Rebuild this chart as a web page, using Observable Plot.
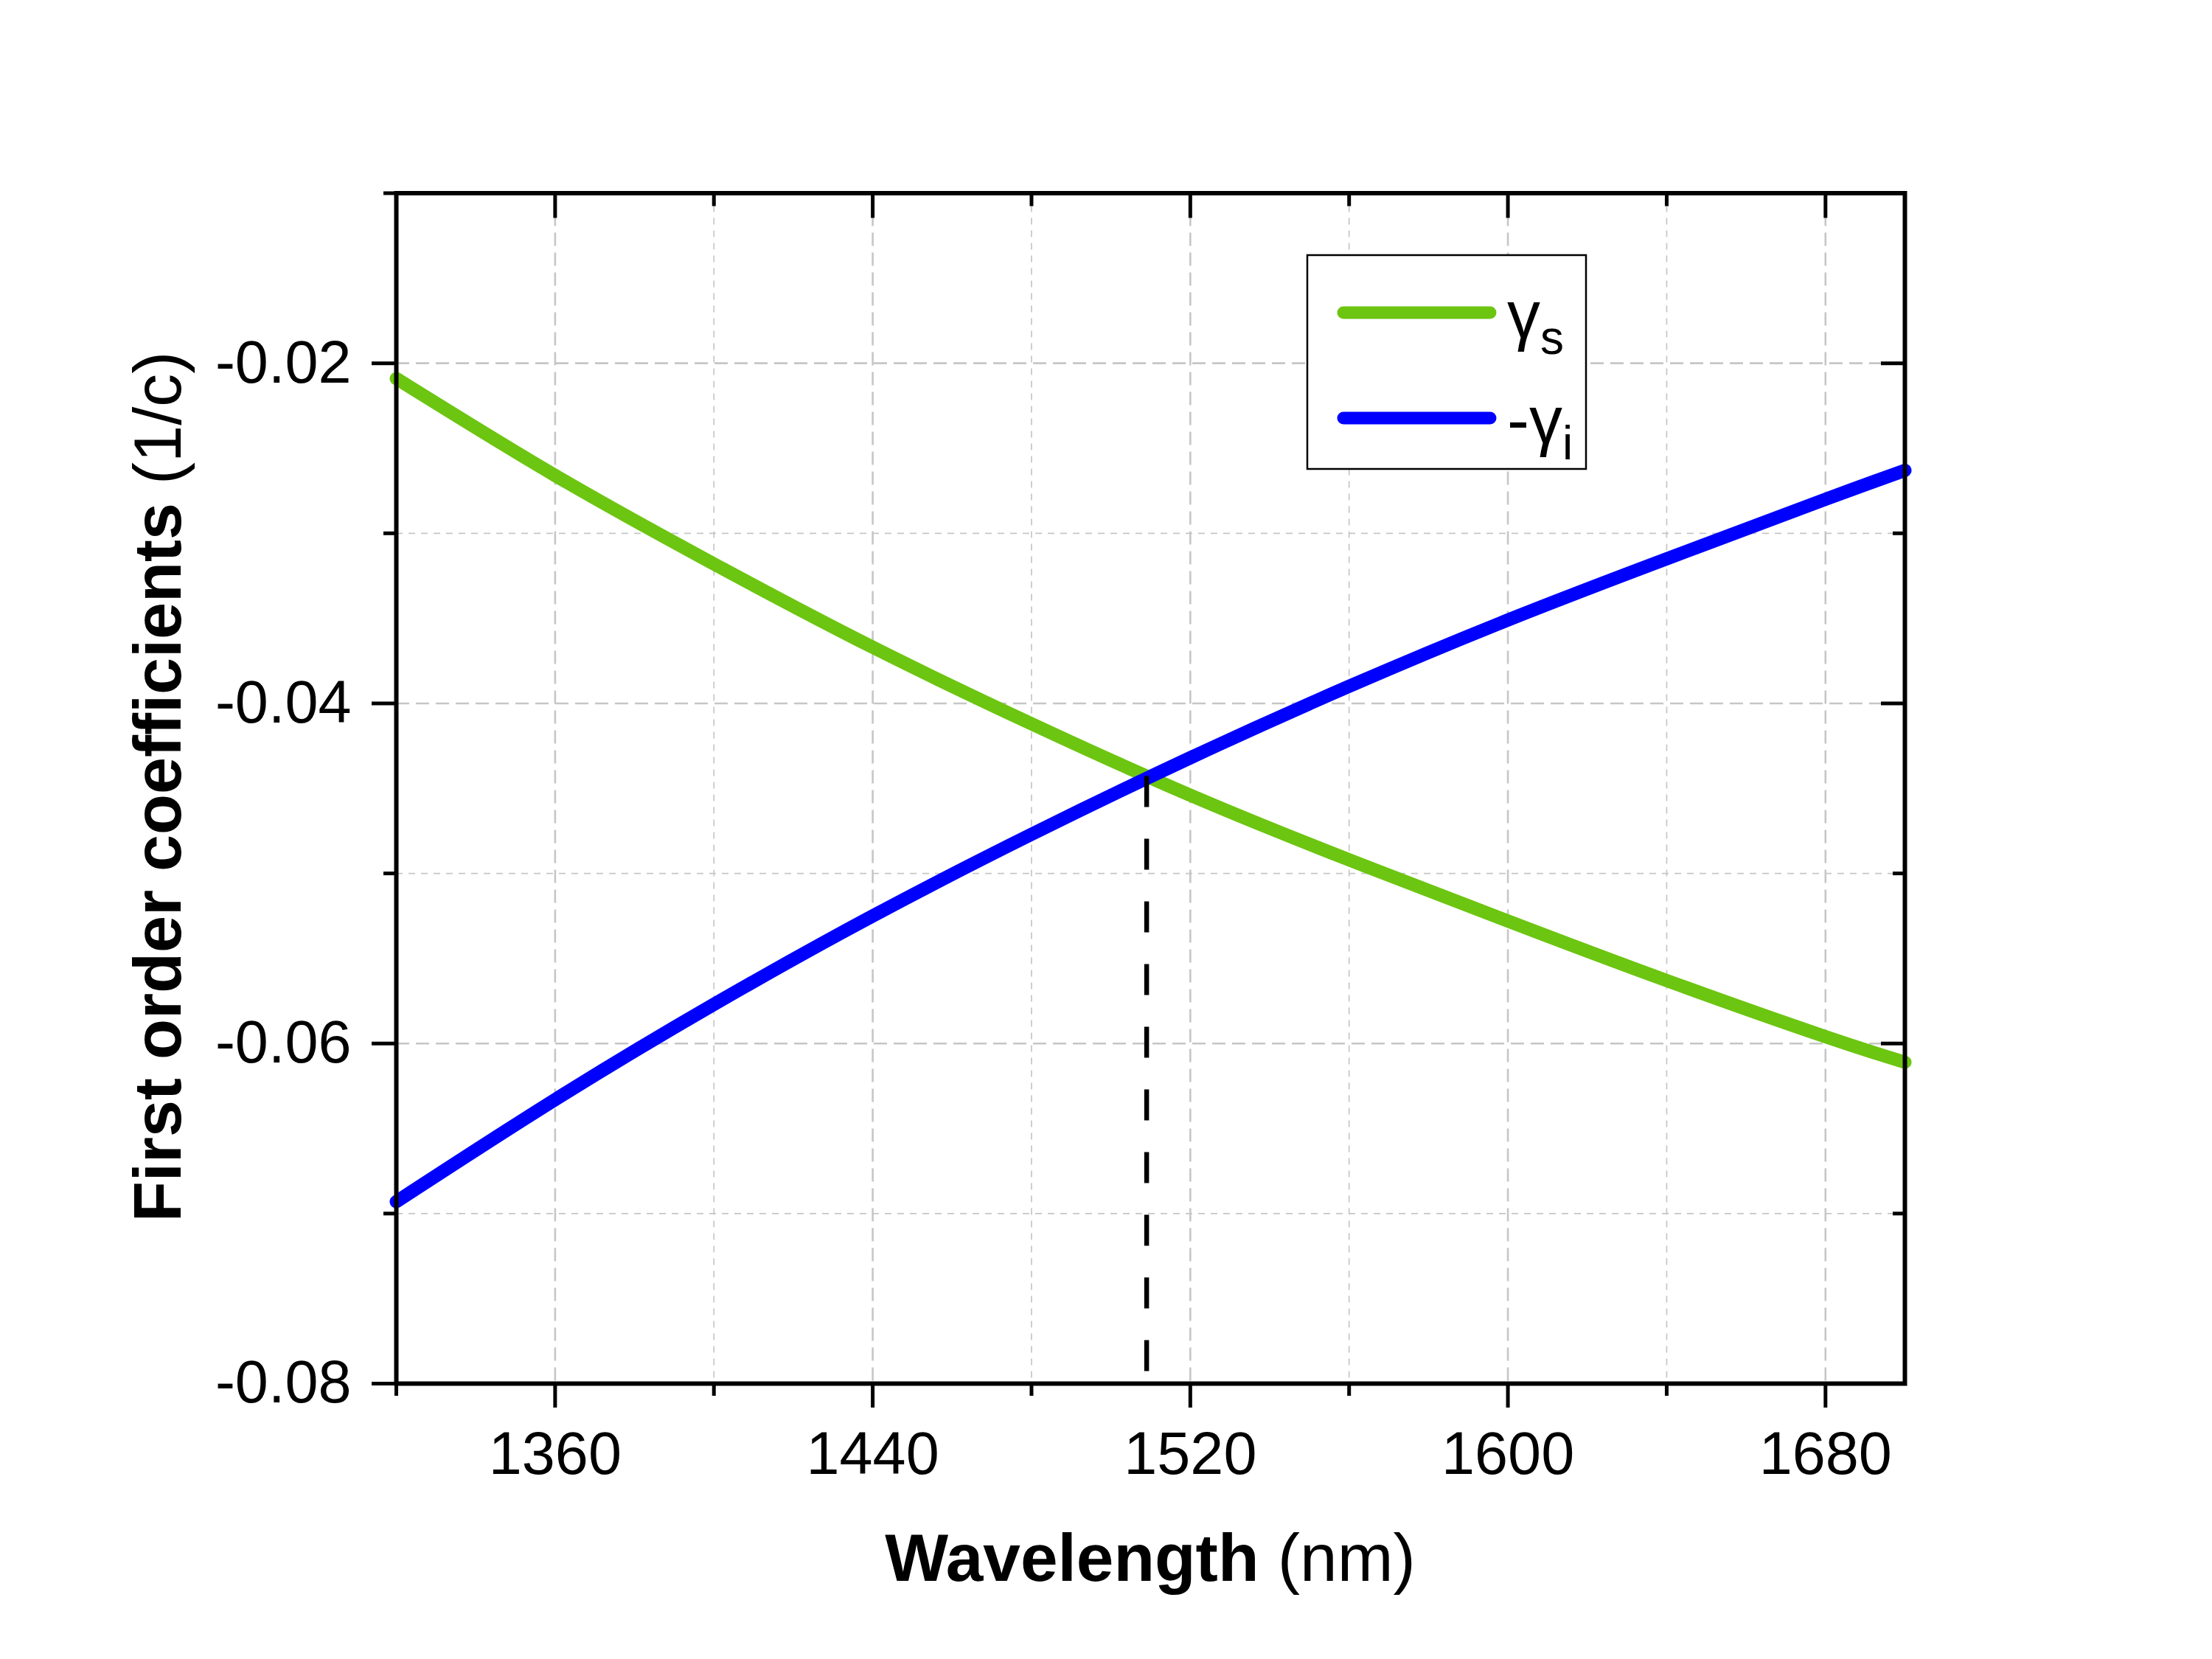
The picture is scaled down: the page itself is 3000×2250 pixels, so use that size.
<!DOCTYPE html>
<html>
<head>
<meta charset="utf-8">
<script src="https://cdn.jsdelivr.net/npm/d3@7"></script>
<script src="https://cdn.jsdelivr.net/npm/@observablehq/plot@0.6"></script>
<style>
  html, body { margin: 0; padding: 0; background: #fff; overflow: hidden; }
  svg { display: block; }
</style>
</head>
<body>
<div id="chart"></div>
<script>
// ---- data ----
const wavelength = [1320, 1360, 1400, 1440, 1480, 1520, 1560, 1600, 1640, 1680, 1700];
const gammaS = [-0.0209, -0.0266, -0.0318, -0.0367, -0.0412, -0.0454, -0.0492, -0.0528, -0.0563, -0.0596, -0.0611];
const minusGammaI = [-0.0693, -0.0633, -0.0577, -0.0525, -0.0477, -0.0432, -0.0390, -0.0351, -0.0315, -0.0280, -0.0263];
const crossWavelength = [1509];
const crossValue = [-0.0443];
const xMajorTicks = [1360, 1440, 1520, 1600, 1680];
const xMinorTicks = [1320, 1400, 1480, 1560, 1640];
const yMajorTicks = [-0.08, -0.06, -0.04, -0.02];
const yMinorTicks = [-0.07, -0.05, -0.03, -0.01];
const legendMain = ["γ", "-γ"];
const legendSub = ["s", "i"];
const seriesColors = ["#6cc510", "#0000ff"];
const xTitle = ["Wavelength", " (nm)"];
const yTitle = ["First order coefficients", " (1/c)"];

const sData = wavelength.map((w, i) => ({w, v: gammaS[i]}));
const iData = wavelength.map((w, i) => ({w, v: minusGammaI[i]}));
const crossData = crossWavelength.map((w, i) => ({w, v: crossValue[i]}));

const font = "'Liberation Sans', Arial, Helvetica, sans-serif";
const gridColor = "#c6c6c6";
const innerMinorX = xMinorTicks.filter(d => d > 1320);
const innerMinorY = yMinorTicks.filter(d => d < -0.01);

const chart = Plot.plot({
  width: 3000,
  height: 2250,
  marginLeft: 537,
  marginRight: 417,
  marginTop: 261.5,
  marginBottom: 374,
  x: {domain: [1320, 1700]},
  y: {domain: [-0.08, -0.01]},
  style: {fontFamily: font, background: "white", color: "black", overflow: "visible"},
  marks: [
    Plot.gridX(xMajorTicks, {stroke: gridColor, strokeOpacity: 1, strokeWidth: 2.6, strokeDasharray: "18,9"}),
    Plot.gridX(innerMinorX, {stroke: gridColor, strokeOpacity: 1, strokeWidth: 1.7, strokeDasharray: "9,8"}),
    Plot.gridY(yMajorTicks.filter(d => d > -0.08), {stroke: gridColor, strokeOpacity: 1, strokeWidth: 2.6, strokeDasharray: "18,9"}),
    Plot.gridY(innerMinorY, {stroke: gridColor, strokeOpacity: 1, strokeWidth: 1.7, strokeDasharray: "9,8"}),
    Plot.line(sData, {x: "w", y: "v", stroke: seriesColors[0], strokeWidth: 18, curve: "natural", strokeLinejoin: "round"}),
    Plot.line(iData, {x: "w", y: "v", stroke: seriesColors[1], strokeWidth: 18, curve: "natural", strokeLinejoin: "round"}),
    Plot.ruleX(crossData, {x: "w", y1: "v", y2: -0.08, stroke: "black", strokeWidth: 6.5, strokeDasharray: "42,43"}),
    Plot.frame({stroke: "black", strokeWidth: 6}),
    // bottom axis
    Plot.axisX(xMajorTicks, {anchor: "bottom", tickSize: 33, tickPadding: 32, fontSize: 81, strokeWidth: 5, tickFormat: d => String(d), label: null}),
    Plot.axisX(xMinorTicks, {anchor: "bottom", tickSize: 17, strokeWidth: 5, tickFormat: () => "", label: null}),
    // top axis (inward ticks)
    Plot.axisX(xMajorTicks, {anchor: "top", tickSize: 33, dy: 33, strokeWidth: 5, tickFormat: () => "", label: null}),
    Plot.axisX(xMinorTicks, {anchor: "top", tickSize: 17, dy: 17, strokeWidth: 5, tickFormat: () => "", label: null}),
    // left axis
    Plot.axisY(yMajorTicks, {anchor: "left", tickSize: 33, tickPadding: 28, fontSize: 81, strokeWidth: 5, tickFormat: d => d.toFixed(2), label: null}),
    Plot.axisY(yMinorTicks, {anchor: "left", tickSize: 17, strokeWidth: 5, tickFormat: () => "", label: null}),
    // right axis (inward ticks)
    Plot.axisY(yMajorTicks, {anchor: "right", tickSize: 33, dx: -33, strokeWidth: 5, tickFormat: () => "", label: null}),
    Plot.axisY(yMinorTicks, {anchor: "right", tickSize: 17, dx: -17, strokeWidth: 5, tickFormat: () => "", label: null})
  ]
});

document.getElementById("chart").appendChild(chart);

// ---- titles and legend ----
const svg = d3.select(chart);

const xt = svg.append("text")
  .attr("x", 1560).attr("y", 2144)
  .attr("text-anchor", "middle")
  .attr("font-family", font).attr("font-size", 91).attr("fill", "black");
xt.append("tspan").attr("font-weight", "bold").text(xTitle[0]);
xt.append("tspan").attr("font-weight", "normal").text(xTitle[1]);

const yt = svg.append("text")
  .attr("transform", "translate(245,1067) rotate(-90)")
  .attr("text-anchor", "middle")
  .attr("font-family", font).attr("font-size", 90).attr("fill", "black");
yt.append("tspan").attr("font-weight", "bold").text(yTitle[0]);
yt.append("tspan").attr("font-weight", "normal").text(yTitle[1]);

const lg = svg.append("g").attr("font-family", font).attr("text-anchor", "start");
lg.append("rect")
  .attr("x", 1773).attr("y", 346).attr("width", 378).attr("height", 290)
  .attr("fill", "white").attr("stroke", "black").attr("stroke-width", 2.5);
const rowY = [424, 567];
legendMain.forEach((m, i) => {
  lg.append("line")
    .attr("x1", 1822).attr("x2", 2021).attr("y1", rowY[i]).attr("y2", rowY[i])
    .attr("stroke", seriesColors[i]).attr("stroke-width", 17).attr("stroke-linecap", "round");
  const t = lg.append("text")
    .attr("x", 2044).attr("y", rowY[i] + 34)
    .attr("text-anchor", "start")
    .attr("font-size", 90).attr("fill", "black");
  t.append("tspan").text(m);
  t.append("tspan").attr("font-size", 64).attr("dy", 22).text(legendSub[i]);
});
</script>
</body>
</html>
